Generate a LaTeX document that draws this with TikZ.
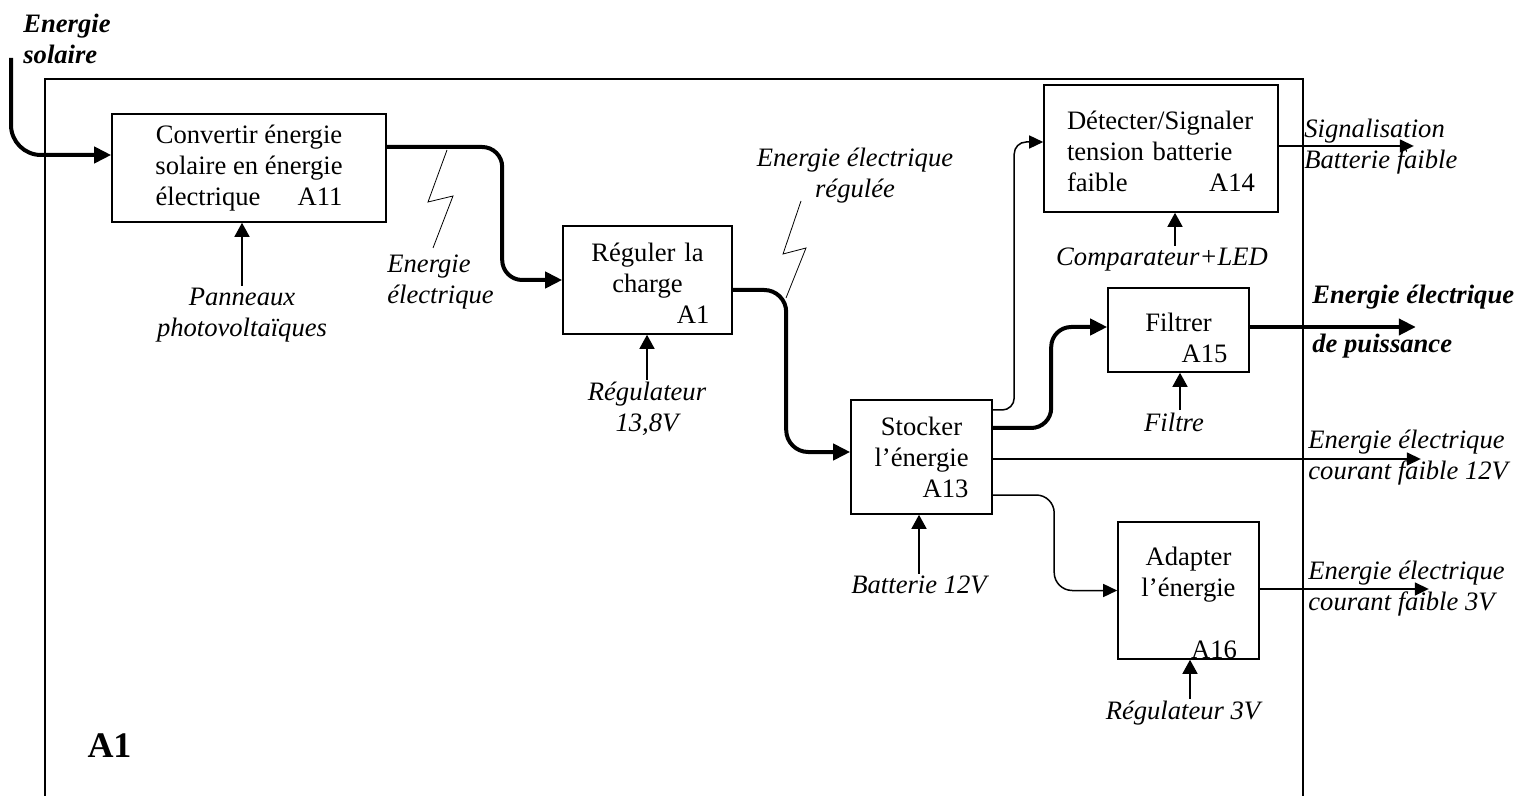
\documentclass[tikz,border=0pt]{standalone}
\usepackage{fontspec}
\setmainfont{Liberation Serif}
\usetikzlibrary{arrows.meta}
\newcommand{\dgfont}{\fontsize{13.3}{15.5}\selectfont}

\begin{document}
\begin{tikzpicture}[x=0.5pt, y=-0.5pt,
		box/.style={draw, line width=0.8pt, inner sep=0pt, font=\dgfont},
		lbl/.style={inner sep=0pt, font=\dgfont\itshape},
		flow/.style={line width=2pt, -{Triangle[length=8.5pt,width=8pt]}},
		sig/.style={line width=0.75pt, -{Triangle[length=7pt,width=6.5pt]}},
		ctrl/.style={line width=0.75pt, shorten <=1pt, -{Triangle[length=7pt,width=7.5pt]}},
		zig/.style={line width=0.4pt}]
		\useasboundingbox (0,0) rectangle (1520,796);
		\draw[line width=0.7pt] (45,796) -- (45,79) -- (1303,79) -- (1303,796);
		\node[font=\fontsize{18}{21}\selectfont\bfseries] (frameid) at (109.5,745.5) {A1};

		\node[box, minimum width=137pt, minimum height=54pt, align=center] (a11) at (249,168) {Convertir énergie\\solaire en énergie\\électrique\hspace{1.4em}A11};
		\node[box, minimum width=84.5pt, minimum height=54pt, text width=62pt, align=center] (a12) at (647.5,280) {\rule{0pt}{12.5pt}Réguler la\\charge\\\hspace*{\fill}A1};
		\node[box, minimum width=70.5pt, minimum height=57pt, text width=47pt, align=center] (a13) at (921.5,457) {Stocker\\l’énergie\\\hspace*{\fill}A13};
		\node[box, minimum width=117pt, minimum height=63.5pt, text width=94pt, align=left] (a14) at (1161,148.5) {\rule{0pt}{12.5pt}Détecter/Signaler\\tension batterie\\faible\hspace*{\fill}A14};
		\node[box, minimum width=70.5pt, minimum height=42pt, text width=49pt, align=center] (a15) at (1178.5,330) {\rule{0pt}{17pt}Filtrer\\\hspace*{\fill}A15};
		\node[box, minimum width=70.5pt, minimum height=68.5pt, text width=48.5pt, align=center] (a16) at (1188.5,590.5) {\rule{0pt}{21.5pt}Adapter\\l’énergie\\\mbox{}\\\hspace*{\fill}A16};

		\node[lbl, font=\dgfont\bfseries\itshape, align=left, anchor=west] (sol) at (23,39) {Energie\\solaire};
		\node[lbl, align=center] (pan) at (242,315) {Panneaux\\photovoltaïques};
		\node[lbl, align=left, anchor=west] (eel) at (387,282) {Energie\\électrique};
		\node[lbl, align=center] (r138) at (647,409) {Régulateur\\13,8V};
		\node[lbl, align=center] (eelreg) at (855,176) {Energie électrique\\régulée};
		\node[lbl] (bat) at (919,585) {Batterie 12V};
		\node[lbl] (comp) at (1162,260) {Comparateur+LED};
		\node[lbl] (filt) at (1174,422) {Filtre};
		\node[lbl] (reg3) at (1183,713) {Régulateur 3V};
		\node[lbl, align=left, anchor=west] (sig) at (1304,147) {Signalisation\\Batterie faible};
		\node[lbl, font=\dgfont\bfseries\itshape, align=left, anchor=west] (pwr) at (1312,322) {Energie électrique\\[9pt]de puissance};
		\node[lbl, align=left, anchor=west] (o12) at (1308,457.5) {Energie électrique\\courant faible 12V};
		\node[lbl, align=left, anchor=west] (o3) at (1308,589) {Energie électrique\\courant faible 3V};

		\coordinate (solin) at (11,58);
		\draw[flow, rounded corners=15pt] (solin) |- ([yshift=6.5pt]a11.west);
		\draw[flow, rounded corners=10pt] ([yshift=10.5pt]a11.east) -| ([xshift=-30pt]a12.west) -- (a12.west);
		\draw[flow, rounded corners=11pt] ([yshift=-5pt]a12.east) -| ([xshift=-32pt,yshift=2.5pt]a13.west) -- ([yshift=2.5pt]a13.west);
		\draw[sig, rounded corners=6pt] ([yshift=23.5pt]a13.east) -| ([xshift=-14.5pt,yshift=3.25pt]a14.west) -- ([yshift=3.25pt]a14.west);
		\draw[flow, rounded corners=10pt] ([yshift=14.5pt]a13.east) -| ([xshift=-28pt,yshift=1.5pt]a15.west) -- ([yshift=1.5pt]a15.west);
		\draw[sig] ([yshift=-1pt]a13.east) -- ++(428,0);
		\draw[sig, rounded corners=9pt] ([yshift=-19pt]a13.east) -| ([xshift=-31.5pt]a16.west) -- (a16.west);
		\draw[sig] ([yshift=1.25pt]a14.east) -- ++(135,0);
		\draw[flow] ([yshift=1.5pt]a15.east) -- ++(166,0);
		\draw[sig] ([yshift=0.75pt]a16.east) -- ++(169,0);

		\draw[ctrl] (pan.north) -- (pan.north |- a11.south);
		\draw[ctrl] (r138.north) -- (r138.north |- a12.south);
		\draw[ctrl] (bat.north) -- (bat.north |- a13.south);
		\coordinate (compin) at ([xshift=6.5pt]comp.north);
		\draw[ctrl] (compin) -- (compin |- a14.south);
		\coordinate (filtin) at ([xshift=3pt]filt.north);
		\draw[ctrl] (filtin) -- (filtin |- a15.south);
		\coordinate (reg3in) at ([xshift=3.5pt]reg3.north);
		\draw[ctrl] (reg3in) -- (reg3in |- a16.south);

		\draw[zig] (447,150) -- (428,202) -- (453,196) -- (433,248);
		\draw[zig] (786,298) -- (806,248) -- (783,254) -- (801,201);
	\end{tikzpicture}
\end{document}
